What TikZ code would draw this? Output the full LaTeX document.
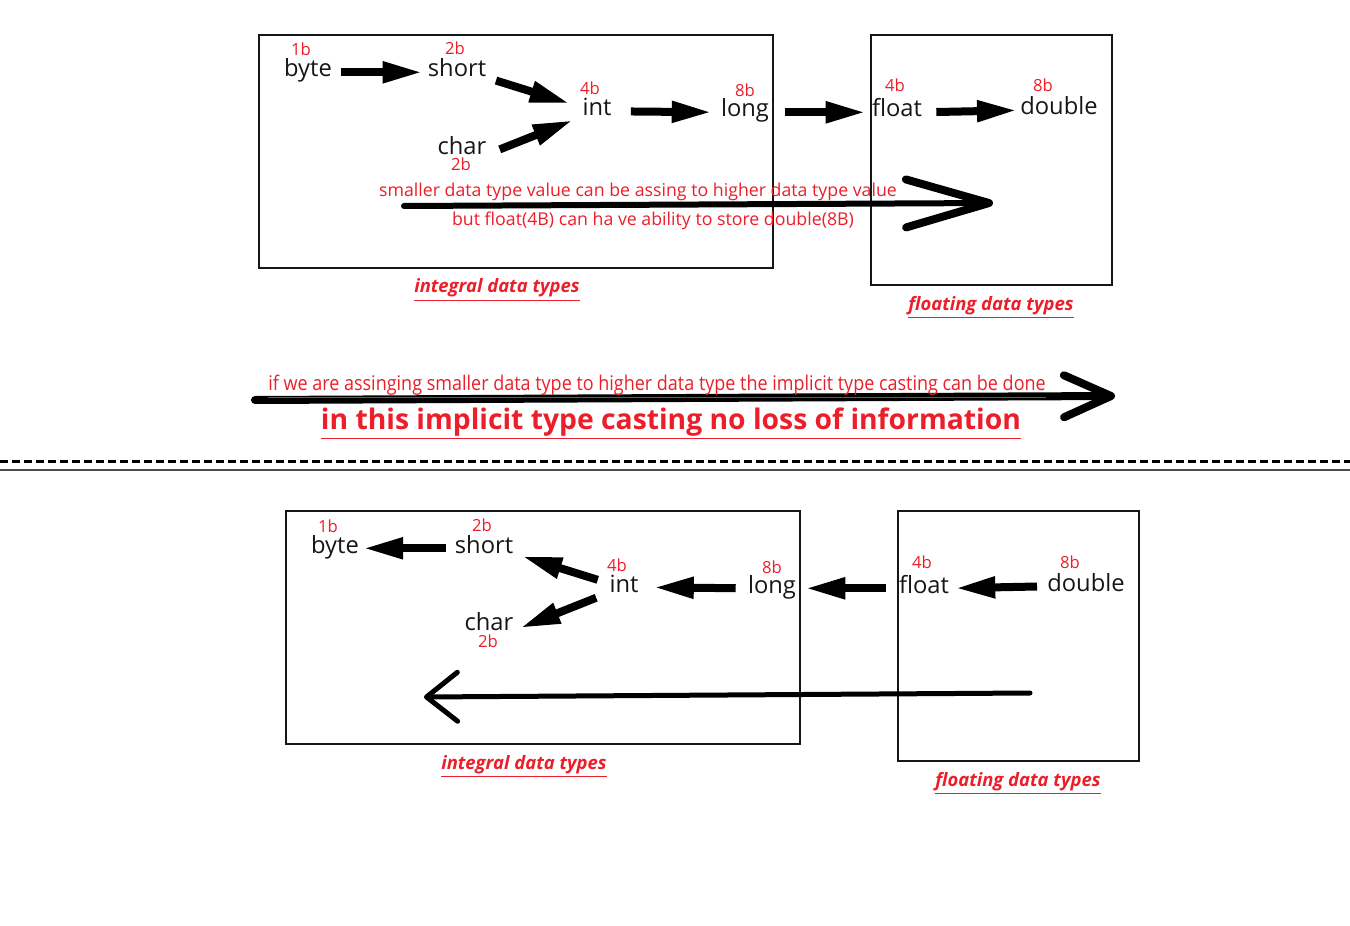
\documentclass[tikz,border=0pt]{standalone}
\usepackage{fontspec}
\setmainfont{Open Sans}
\newfontfamily\narrowfont[FakeStretch=0.89]{Open Sans}
\usetikzlibrary{arrows.meta}
\definecolor{sizered}{RGB}{236,30,42}
\definecolor{typeblack}{RGB}{22,22,22}

\tikzset{
  typename/.style={font=\fontsize{13.5}{14}\selectfont, text=typeblack, inner sep=0, anchor=base},
  bits/.style={font=\fontsize{9.5}{10}\selectfont, text=sizered, inner sep=0, anchor=base},
  note/.style={font=\fontsize{10.1}{11}\selectfont, text=sizered, inner sep=0, anchor=base},
  groupname/.style={font=\fontsize{10.5}{11}\selectfont\bfseries\itshape, text=sizered, inner sep=0, anchor=base},
  groupbox/.style={draw=typeblack, line width=0.04cm},
  fatarrow/.style={draw=black, line width=0.16cm, -{Triangle[length=0.8cm,width=0.4cm]}},
}

\begin{document}
\begin{tikzpicture}[x=0.02cm, y=-0.02cm]
\useasboundingbox (0,0) rectangle (1350,926);

% the two copies of the two groups
\foreach \s/\dx/\dy in {up/0/0, dn/27/476} {
  \begin{scope}[shift={(\dx,\dy)}]
    \draw[groupbox] (259,35) rectangle (773,268);
    \draw[groupbox] (871,35) rectangle (1112,285);
    \node[typename] (byte\s)   at (308,77)  {byte};
    \node[typename] (short\s)  at (457,77)  {short};
    \node[typename] (int\s)    at (597,116) {int};
    \node[typename] (long\s)   at (745,117) {long};
    \node[typename] (char\s)   at (462,154) {char};
    \node[typename] (float\s)  at (897,117) {float};
    \node[typename] (double\s) at (1059,115) {double};
    \node[bits] (b1\s) at (301,56)  {1b};
    \node[bits] (b2\s) at (455,55)  {2b};
    \node[bits] (b4\s) at (590,95)  {4b};
    \node[bits] (b8\s) at (745,97)  {8b};
    \node[bits] (c2\s) at (461,171) {2b};
    \node[bits] (f4\s) at (895,92)  {4b};
    \node[bits] (d8\s) at (1043,92) {8b};
    \node[groupname] (intname\s) at (497,293) {\underline{integral data types}};
    \node[groupname] (fltname\s) at (991,310) {\underline{floating data types}};
  \end{scope}
}

% widening: small to big
\draw[fatarrow, shorten <=0.18cm, shorten >=0.1cm] (byteup.mid east) -- (shortup.mid west);
\draw[fatarrow, shorten <=0.2cm, shorten >=0.26cm] (shortup.south east) -- (intup.west);
\draw[fatarrow, shorten <=0.28cm, shorten >=0.2cm] (charup.south east) -- (intup.south west);
\draw[fatarrow, shorten <=0.38cm, shorten >=0.18cm] (intup.mid east) -- (longup.mid west);
\draw[fatarrow, shorten <=0.32cm, shorten >=0.12cm] (longup.mid east) -- (floatup.mid west);
\draw[fatarrow, shorten <=0.28cm, shorten >=0.06cm] (floatup.mid east) -- (doubleup.mid west);

\coordinate (wfrom) at (404,206);
\coordinate (wto) at (993,203);
\draw[line width=0.12cm, line cap=round,
  -{Straight Barb[length=1.66cm,width=0.96cm,line width=0.16cm,round]}] (wfrom) -- (wto);
\node[note] (assign) at (638,196) {smaller data type value can be assing to higher data type value};
\node[note] (store) at (653,226) {but float(4B) can ha ve ability to store double(8B)};

% implicit casting
\coordinate (cfrom) at (255,400);
\coordinate (cto) at (1115,396);
\draw[line width=0.16cm, line cap=round,
  -{Straight Barb[length=0.94cm,width=0.84cm,line width=0.16cm,round]}] (cfrom) -- (cto);
\node[note, font=\narrowfont\fontsize{11.5}{12}\selectfont] (implicit) at (657,390)
  {\underline{if we are assinging smaller data type to higher data type the implicit type casting can be done}};
\node[note, font=\fontsize{16.1}{17}\selectfont\bfseries] (noloss) at (671,429)
  {\underline{in this implicit type casting no loss of information}};

\draw[line width=0.06cm, dash pattern=on 0.16cm off 0.08cm] (0,461) -- (1350,461);
\draw[line width=0.03cm, black!70] (0,470) -- (1350,470);

% narrowing: big to small
\draw[fatarrow, shorten <=0.18cm, shorten >=0.08cm] (shortdn.mid west) -- (bytedn.mid east);
\draw[fatarrow, shorten <=0.24cm, shorten >=0.18cm] (intdn.west) -- (shortdn.south east);
\draw[fatarrow, shorten <=0.28cm, shorten >=0.14cm] (intdn.south west) -- (chardn.south east);
\draw[fatarrow, shorten <=0.24cm, shorten >=0.3cm] (longdn.mid west) -- (intdn.mid east);
\draw[fatarrow, shorten <=0.26cm, shorten >=0.18cm] (floatdn.mid west) -- (longdn.mid east);
\draw[fatarrow, shorten <=0.2cm, shorten >=0.12cm] (doubledn.mid west) -- (floatdn.mid east);

\coordinate (nfrom) at (1030,693);
\coordinate (nto) at (424,697);
\draw[line width=0.1cm, line cap=round,
  -{Straight Barb[length=0.62cm,width=0.98cm,line width=0.1cm,round]}] (nfrom) -- (nto);
\end{tikzpicture}
\end{document}
